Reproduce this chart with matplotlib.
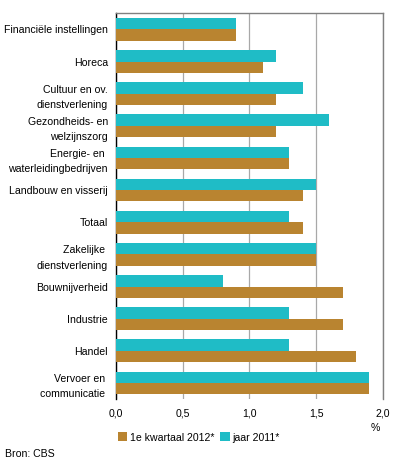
import matplotlib
matplotlib.use("Agg")
import matplotlib.pyplot as plt
import numpy as np

categories = ["Financiële instellingen", "Horeca", "Cultuur en ov.\ndienstverlening",
              "Gezondheids- en\nwelzijnszorg", "Energie- en \nwaterleidingbedrijven",
              "Landbouw en visserij", "Totaal", "Zakelijke \ndienstverlening",
              "Bouwnijverheid", "Industrie", "Handel", "Vervoer en \ncommunicatie "]
kwartaal_2012 = [0.9, 1.1, 1.2, 1.2, 1.3, 1.4, 1.4, 1.5, 1.7, 1.7, 1.8, 1.9]
jaar_2011 = [0.9, 1.2, 1.4, 1.6, 1.3, 1.5, 1.3, 1.5, 0.8, 1.3, 1.3, 1.9]
xticks = [0.0, 0.5, 1.0, 1.5, 2.0]
xticklabels = ["0,0", "0,5", "1,0", "1,5", "2,0"]

BROWN = "#b98430"
CYAN = "#1fbcc6"

plt.rcParams['font.family'] = ['Liberation Sans', 'DejaVu Sans']
plt.rcParams['font.size'] = 7.6

fig = plt.figure(figsize=(3.96, 4.67), dpi=100)
ax = fig.add_axes([0.2937, 0.1456, 0.9664 - 0.2937, 0.9715 - 0.1456])

y = np.arange(len(categories))
h = 0.352
ax.barh(y - h / 2, jaar_2011, height=h, color=CYAN, label="jaar 2011*", zorder=3)
ax.barh(y + h / 2, kwartaal_2012, height=h, color=BROWN, label="1e kwartaal 2012*", zorder=3)

ax.set_ylim(len(categories) - 0.5, -0.5)
ax.set_xlim(0, 2.0)
ax.set_yticks(y)
ax.set_yticklabels(categories, linespacing=1.65)
ax.tick_params(axis='y', length=0, pad=6)
ax.set_xticks(xticks)
ax.set_xticklabels(xticklabels)
ax.tick_params(axis='x', length=0, pad=7)

ax.grid(axis='x', color='#a8a8a8', linewidth=0.9, zorder=0)
ax.spines['bottom'].set_visible(False)
ax.spines['left'].set_color('black')
ax.spines['left'].set_linewidth(1.0)
ax.spines['top'].set_color('#808080')
ax.spines['top'].set_linewidth(1.0)
ax.spines['right'].set_color('#808080')
ax.spines['right'].set_linewidth(1.0)

fig.text(375 / 396, 1 - 428 / 467, "%", ha='center', va='center')

handles, labels = ax.get_legend_handles_labels()
leg = fig.legend(handles[::-1], labels[::-1], loc='center left',
                 bbox_to_anchor=(118 / 396, 1 - 437.5 / 467), ncol=2, frameon=False,
                 handlelength=0.9, handleheight=0.9, handletextpad=0.2,
                 columnspacing=0.6, borderpad=0, borderaxespad=0)

fig.text(5 / 396, 1 - 454 / 467, "Bron: CBS", ha='left', va='center')

fig.savefig("out.png", dpi=100)
